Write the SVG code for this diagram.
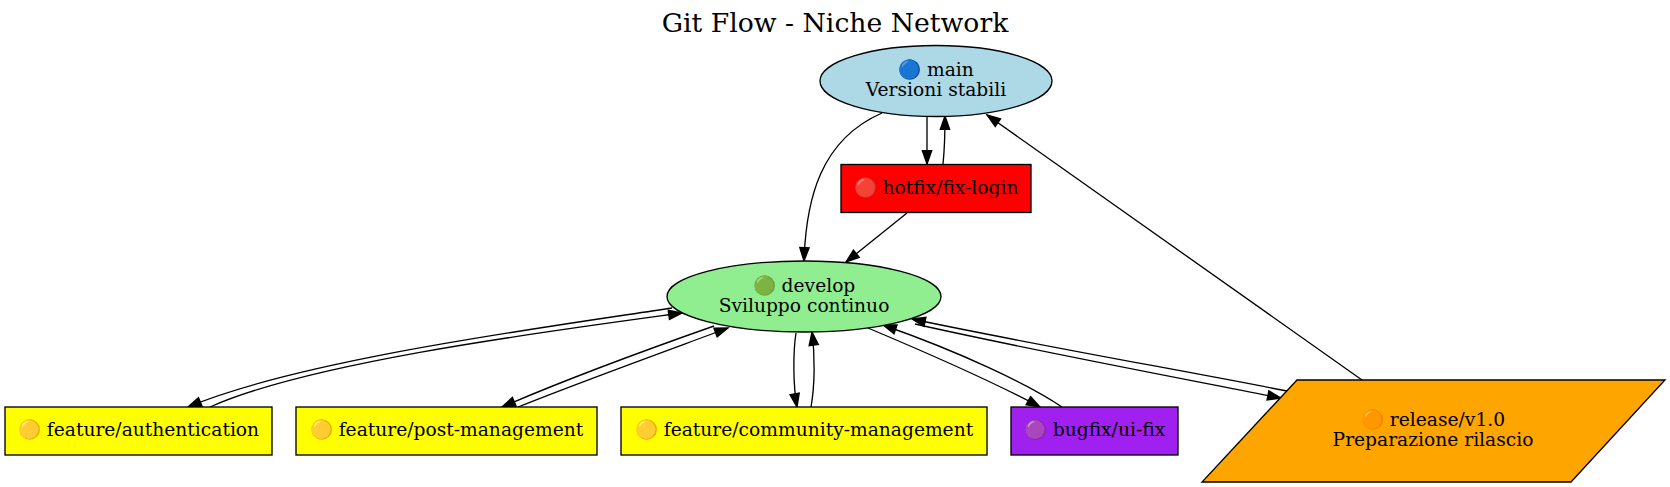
<svg xmlns="http://www.w3.org/2000/svg" width="1670" height="487" viewBox="0 0 1670 487">
<style>
text { font-family: "DejaVu Serif", "Liberation Serif", serif; font-size: 18.67px; fill: #000; text-anchor: middle; }
.title { font-size: 26.67px; }
.node { stroke: #000; stroke-width: 1.33; }
.edge { fill: none; stroke: #000; stroke-width: 1.33; marker-end: url(#arrow); }
.edge-plain { fill: none; stroke: #000; stroke-width: 1.33; }
</style>
<defs>
<marker id="arrow" markerUnits="userSpaceOnUse" markerWidth="15" markerHeight="11" refX="13.3" refY="4.67" orient="auto" overflow="visible">
<path d="M0,0 L13.3,4.67 L0,9.33 Z" fill="#000" stroke="#000" stroke-width="1.33"/>
</marker>
</defs>
<rect width="1670" height="487" fill="#fff"/>
<text class="title" x="835" y="32">Git Flow - Niche Network</text>

<g id="connectors">
<path class="edge" d="M882,113 C820,140 806,200 804,261"/>
<path class="edge" d="M927,117 L927,164"/>
<path class="edge" d="M943,164 C945,145 945,130 945,116"/>
<path class="edge" d="M907,213 L846,262"/>
<path class="edge" d="M1362,380 L987,115"/>
<path class="edge" d="M672,308 C540,328 300,360 188,407"/>
<path class="edge" d="M210,407 C310,362 550,331 682,313"/>
<path class="edge" d="M714,326 C640,352 560,382 502,407"/>
<path class="edge" d="M518,407 C575,384 655,355 728,328"/>
<path class="edge" d="M796,333 C793,352 793,385 797,407"/>
<path class="edge" d="M811,407 C815,385 815,355 812,332"/>
<path class="edge" d="M868,328 C925,352 990,380 1040,407"/>
<path class="edge" d="M1062,407 C1030,385 960,352 883,325"/>
<path class="edge" d="M915,324 C1030,350 1180,378 1281,398"/>
<path class="edge" d="M1287,391 C1180,370 1030,344 912,319"/>
</g>

<g id="main">
<ellipse class="node" cx="936" cy="81" rx="116" ry="35.5" fill="#add8e6"/>
<text x="936" y="76">🔵 main</text>
<text x="936" y="96">Versioni stabili</text>
</g>

<g id="hotfix">
<rect class="node" x="841" y="164.5" width="190" height="48" fill="#ff0000"/>
<text x="936" y="193.5">🔴 hotfix/fix-login</text>
</g>

<g id="develop">
<ellipse class="node" cx="804" cy="296.5" rx="137" ry="35.5" fill="#90ee90"/>
<text x="804" y="291.5">🟢 develop</text>
<text x="804" y="311.5">Sviluppo continuo</text>
</g>

<g id="feature-authentication">
<rect class="node" x="5" y="407" width="267" height="48" fill="#ffff00"/>
<text x="138.5" y="436">🟡 feature/authentication</text>
</g>

<g id="feature-post-management">
<rect class="node" x="296" y="407" width="301" height="48" fill="#ffff00"/>
<text x="446.5" y="436">🟡 feature/post-management</text>
</g>

<g id="feature-community-management">
<rect class="node" x="621" y="407" width="366" height="48" fill="#ffff00"/>
<text x="804" y="436">🟡 feature/community-management</text>
</g>

<g id="bugfix-ui-fix">
<rect class="node" x="1011" y="407" width="167" height="48" fill="#a020f0"/>
<text x="1094.5" y="436">🟣 bugfix/ui-fix</text>
</g>

<g id="release">
<polygon class="node" points="1297,380 1665,380 1571,482 1202,482" fill="#ffa500"/>
<text x="1433" y="426">🟠 release/v1.0</text>
<text x="1433" y="446">Preparazione rilascio</text>
</g>
</svg>
